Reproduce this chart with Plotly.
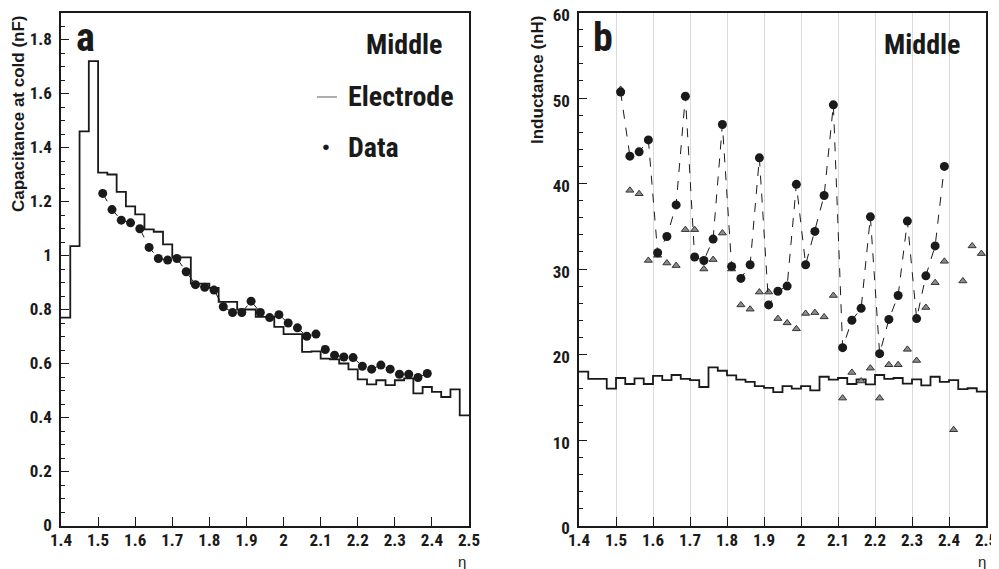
import numpy as np
import plotly.graph_objects as go

# bin edges shared by both histograms (0.025 wide from 1.4 to 2.5)
edges = np.round(np.arange(1.4, 2.5001, 0.025), 4)
centers = edges[:-1] + 0.0125

# panel a: electrode capacitance (histogram) and data points
cap_electrode = [0.77, 1.035, 1.46, 1.72, 1.307, 1.30, 1.236, 1.182, 1.152, 1.097, 1.088, 1.041,
                 0.993, 0.993, 0.896, 0.896, 0.88, 0.828, 0.828, 0.80, 0.80, 0.773, 0.773, 0.736,
                 0.709, 0.709, 0.643, 0.645, 0.618, 0.615, 0.60, 0.578, 0.541, 0.523, 0.538, 0.52,
                 0.538, 0.545, 0.489, 0.513, 0.495, 0.476, 0.504, 0.408]
cap_data = [1.230, 1.170, 1.131, 1.121, 1.099, 1.030, 0.989, 0.983, 0.989, 0.940, 0.892, 0.882,
            0.872, 0.810, 0.789, 0.789, 0.831, 0.789, 0.770, 0.781, 0.750, 0.732, 0.701, 0.709,
            0.652, 0.631, 0.624, 0.622, 0.590, 0.579, 0.594, 0.579, 0.560, 0.560, 0.548, 0.563]

# panel b: inductance
ind_electrode = [18.0, 17.15, 17.15, 16.0, 17.25, 16.55, 17.2, 16.55, 17.5, 17.0, 17.6, 17.15,
                 17.0, 16.2, 18.5, 18.1, 17.55, 17.05, 16.8, 16.3, 16.1, 15.6, 16.3, 16.0,
                 16.3, 15.8, 17.4, 17.05, 17.25, 16.55, 17.1, 16.5, 17.6, 17.15, 17.25, 16.6,
                 17.1, 16.4, 17.4, 16.8, 17.0, 15.95, 16.05, 15.65]
ind_data = [50.7, 43.2, 43.7, 45.1, 31.9, 33.8, 37.5, 50.2, 31.4, 31.0, 33.5, 46.9,
            30.3, 28.9, 30.5, 43.0, 25.8, 27.4, 28.0, 39.9, 30.5, 34.4, 38.6, 49.2,
            20.8, 24.0, 25.4, 36.1, 20.1, 24.1, 26.9, 35.6, 24.2, 29.2, 32.7, 42.0]
ind_tri = [51.0, 39.2, 38.8, 31.0, 31.6, 30.7, 30.4, 34.6, 34.6, 30.0, 31.1, 34.2,
           30.0, 25.8, 25.3, 27.3, 27.3, 24.2, 23.7, 23.0, 24.8, 24.9, 24.4, 26.9,
           14.9, 17.9, 16.9, 18.4, 14.9, 18.8, 18.8, 20.6, 19.3, 25.5, 28.4, 30.9,
           11.2, 28.6, 32.7, 31.8]

NARROW = "Liberation Sans Narrow, Roboto Condensed, Liberation Sans, Arial"
WIDE = "Liberation Sans, Arial"
INK = "#1a1a1a"
W, H = 999, 569
OFF = 8  # page body margin shifts the figure


def px(x):
    return (x - OFF) / W


def py(y):
    return 1 - (y - OFF) / H


fig = go.Figure()

# panel a
fig.add_trace(go.Scatter(x=edges, y=cap_electrode + [cap_electrode[-1]], mode='lines',
                         line=dict(shape='hv', color=INK, width=1.8),
                         xaxis='x', yaxis='y', showlegend=False))
fig.add_trace(go.Scatter(x=centers[4:4 + len(cap_data)], y=cap_data, mode='lines+markers',
                         line=dict(color=INK, width=1, dash='dash'),
                         marker=dict(color=INK, size=9),
                         xaxis='x', yaxis='y', showlegend=False))

# panel b
fig.add_trace(go.Scatter(x=edges, y=ind_electrode + [ind_electrode[-1]], mode='lines',
                         line=dict(shape='hv', color=INK, width=1.8),
                         xaxis='x2', yaxis='y2', showlegend=False))
fig.add_trace(go.Scatter(x=centers[4:4 + len(ind_tri)], y=ind_tri, mode='markers',
                         marker=dict(symbol='triangle-up', color='#8c8c8c', size=7,
                                     line=dict(color='#333333', width=1)),
                         xaxis='x2', yaxis='y2', showlegend=False))
fig.add_trace(go.Scatter(x=centers[4:4 + len(ind_data)], y=ind_data, mode='lines+markers',
                         line=dict(color=INK, width=1, dash='dash'),
                         marker=dict(color=INK, size=9),
                         xaxis='x2', yaxis='y2', showlegend=False))

tickfont = dict(family=NARROW, size=17, color=INK, weight='bold')
xcommon = dict(range=[1.4, 2.5], dtick=0.1, tick0=1.4, ticks='inside', ticklen=9,
               tickcolor=INK, showline=True, linecolor=INK, linewidth=1.5, mirror=True,
               tickfont=tickfont, zeroline=False, automargin=False, ticklabelstandoff=-2,
               ticklabeloverflow='allow')
ycommon = dict(ticks='inside', ticklen=8, tickcolor=INK, showline=True, linecolor=INK,
               linewidth=1.5, mirror=True, showgrid=False, zeroline=False, tickfont=tickfont,
               automargin=False, ticklabelstandoff=4, ticklabeloverflow='allow')
ydom = [py(525.5), py(12.5)]

fig.update_layout(
    width=W, height=H,
    margin=dict(l=0, r=0, t=0, b=0),
    plot_bgcolor='white', paper_bgcolor='white',
    xaxis=dict(domain=[px(61), px(469)], showgrid=False, anchor='y', **xcommon),
    yaxis=dict(domain=ydom, range=[0, 1.9], dtick=0.2, anchor='x',
               minor=dict(dtick=0.05, ticks='inside', ticklen=4, tickcolor=INK), **ycommon),
    xaxis2=dict(domain=[px(579), px(986)], showgrid=True, gridcolor='#dadada',
                gridwidth=1, anchor='y2', **xcommon),
    yaxis2=dict(domain=ydom, range=[0, 60], dtick=10, anchor='x2', ticklabelshift=3,
                minor=dict(dtick=2, ticks='inside', ticklen=4, tickcolor=INK), **ycommon),
)

# legend stroke for the electrode histogram
fig.add_shape(type='line', xref='paper', yref='paper', x0=px(317), x1=px(337),
              y0=py(97), y1=py(97), line=dict(color='#777777', width=1.2))

big = dict(family=NARROW, size=28, color=INK, weight='bold')
letter = dict(family=NARROW, size=40, color=INK, weight='bold')
title = dict(family=WIDE, size=17, color=INK, weight='bold')
ann = [
    dict(x=px(74), y=py(38), text='a', font=letter, xanchor='left', yanchor='middle'),
    dict(x=px(591), y=py(38), text='b', font=letter, xanchor='left', yanchor='middle'),
    dict(x=px(445), y=py(45), text='Middle', font=big, xanchor='right', yanchor='middle'),
    dict(x=px(963), y=py(45), text='Middle', font=big, xanchor='right', yanchor='middle'),
    dict(x=px(346), y=py(96), text='Electrode', font=big, xanchor='left', yanchor='middle'),
    dict(x=px(320), y=py(146), text='●', font=dict(family=WIDE, size=13, color=INK),
         xanchor='left', yanchor='middle'),
    dict(x=px(346), y=py(147), text='Data', font=big, xanchor='left', yanchor='middle'),
    dict(x=px(18), y=py(14), text='Capacitance at cold (nF)', textangle=-90,
         font=title, xanchor='center', yanchor='top'),
    dict(x=px(537), y=py(14), text='Inductance (nH)', textangle=-90,
         font=title, xanchor='center', yanchor='top'),
    dict(x=px(462), y=py(561), text='η', font=dict(family=WIDE, size=15, color=INK),
         xanchor='center', yanchor='middle'),
    dict(x=px(982), y=py(561), text='η', font=dict(family=WIDE, size=15, color=INK),
         xanchor='center', yanchor='middle'),
]
for a in ann:
    a.update(xref='paper', yref='paper', showarrow=False)
fig.update_layout(annotations=ann)

fig.write_html("out.html")
